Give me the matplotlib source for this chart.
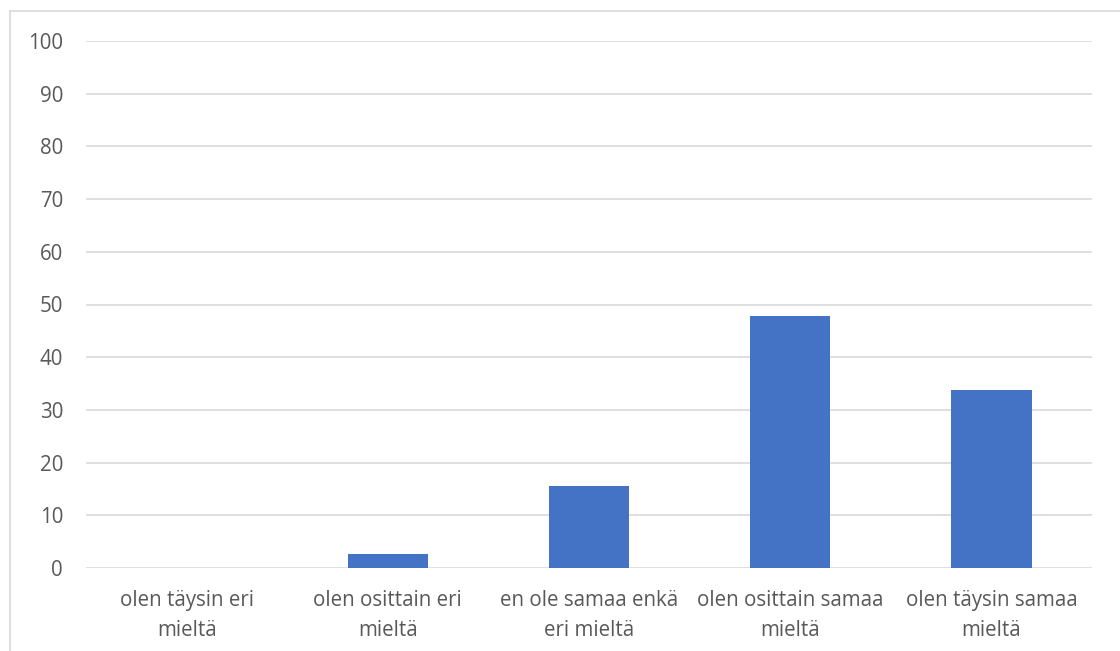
import matplotlib
matplotlib.use("Agg")
import matplotlib.pyplot as plt
from matplotlib.lines import Line2D

categories = ["olen täysin eri\nmieltä", "olen osittain eri\nmieltä", "en ole samaa enkä\neri mieltä",
              "olen osittain samaa\nmieltä", "olen täysin samaa\nmieltä"]
values = [0, 2.7, 15.6, 47.9, 33.8]
yticks = list(range(0, 101, 10))

plt.rcParams['font.family'] = ['Open Sans', 'DejaVu Sans']
fig = plt.figure(figsize=(11.2, 6.51), dpi=100)
ax = fig.add_axes([86/1120, 1-568/651, (1092-86)/1120, (568-41)/651])

x = list(range(len(categories)))
ax.bar(x, values, width=0.4, color="#4472C4", zorder=3)
ax.set_xlim(-0.5, len(categories)-0.5)
ax.set_ylim(0, 100)
ax.set_yticks(yticks)
ax.set_xticks(x)
ax.set_xticklabels(categories, fontsize=14.8, color="#595959", linespacing=1.55)
ax.tick_params(axis='y', labelsize=14.8, labelcolor="#595959", length=0, pad=16.5)
ax.tick_params(axis='x', length=0, pad=16)
ax.grid(axis='y', color="#D9D9D9", linewidth=1.2, zorder=0)
for s in ax.spines.values():
    s.set_visible(False)

# outer chart border (left and top)
fig.add_artist(Line2D([10/1120, 10/1120], [0, 1-11/651], transform=fig.transFigure, color="#D9D9D9", linewidth=1.2))
fig.add_artist(Line2D([10/1120, 1], [1-11/651, 1-11/651], transform=fig.transFigure, color="#D9D9D9", linewidth=1.2))

fig.savefig("out.png", dpi=100)
